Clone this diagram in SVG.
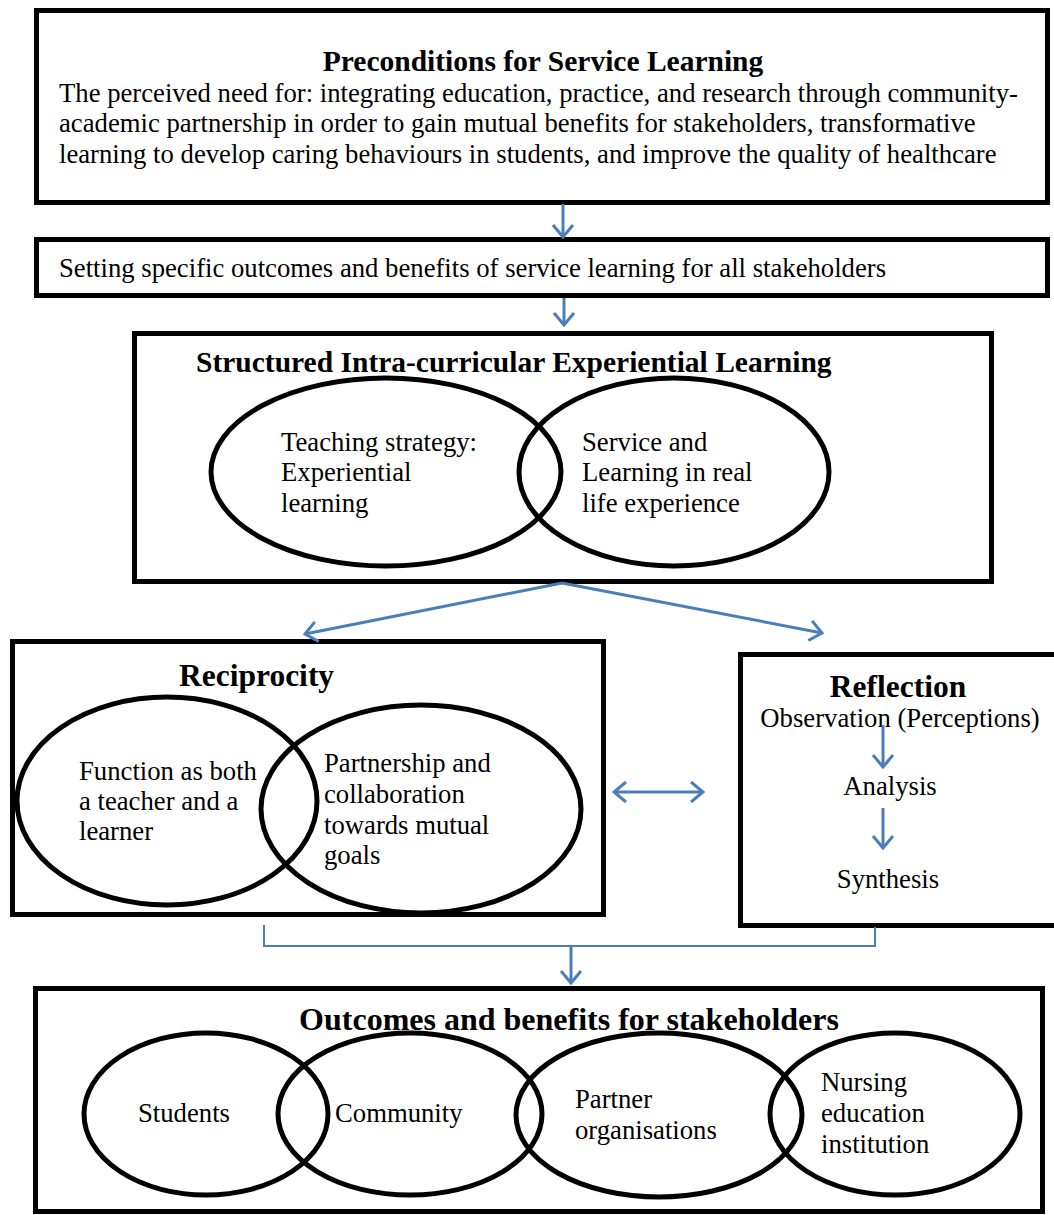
<svg xmlns="http://www.w3.org/2000/svg" width="1054" height="1215" viewBox="0 0 1054 1215">
<style>
.box{fill:none;stroke:#000;stroke-width:5}
.ell{fill:none;stroke:#000;stroke-width:5}
.t{font-family:"Liberation Serif","Times New Roman",serif;font-size:26.7px;fill:#000}
.h{font-family:"Liberation Serif","Times New Roman",serif;font-weight:bold;font-size:29.5px;fill:#000}
.h2{font-family:"Liberation Serif","Times New Roman",serif;font-weight:bold;font-size:31.5px;fill:#000}
.c{fill:none;stroke:#4a7ebb;stroke-width:3}
.thin{fill:none;stroke:#4a7ebb;stroke-width:2}
</style>
<defs>
<marker id="ah" markerUnits="userSpaceOnUse" markerWidth="16" markerHeight="24" viewBox="0 0 16 24" refX="14" refY="12" orient="auto-start-reverse">
<path d="M2,2 L14,12 L2,22" fill="none" stroke="#4a7ebb" stroke-width="3"/>
</marker>
</defs>
<rect width="1054" height="1215" fill="#fff"/>
<g id="preconditions">
<rect class="box" x="36.5" y="10.5" width="1011" height="192"/>
<text class="h" x="543" y="71" text-anchor="middle">Preconditions for Service Learning</text>
<text class="t" x="59" y="102">The perceived need for: integrating education, practice, and research through community-</text>
<text class="t" x="59" y="132">academic partnership in order to gain mutual benefits for stakeholders, transformative</text>
<text class="t" x="59" y="163">learning to develop caring behaviours in students, and improve the quality of healthcare</text>
</g>
<g id="setting">
<rect class="box" x="36.5" y="239.5" width="1011" height="56"/>
<text class="t" x="59" y="277">Setting specific outcomes and benefits of service learning for all stakeholders</text>
</g>
<g id="structured">
<rect class="box" x="134.5" y="333.5" width="857" height="248"/>
<text class="h" x="196" y="372">Structured Intra-curricular Experiential Learning</text>
<ellipse class="ell" cx="386" cy="472" rx="175" ry="94"/>
<ellipse class="ell" cx="674" cy="472" rx="155" ry="94"/>
<text class="t" x="281" y="451">Teaching strategy:</text>
<text class="t" x="281" y="481">Experiential</text>
<text class="t" x="281" y="512">learning</text>
<text class="t" x="582" y="451">Service and</text>
<text class="t" x="582" y="481">Learning in real</text>
<text class="t" x="582" y="512">life experience</text>
</g>
<g id="reciprocity">
<rect class="box" x="12.5" y="641.5" width="591" height="273"/>
<text class="h2" x="179" y="686">Reciprocity</text>
<ellipse class="ell" cx="167" cy="801" rx="150" ry="104"/>
<ellipse class="ell" cx="421" cy="809" rx="160" ry="104"/>
<text class="t" x="79" y="780">Function as both</text>
<text class="t" x="79" y="810">a teacher and a</text>
<text class="t" x="79" y="840">learner</text>
<text class="t" x="324" y="772">Partnership and</text>
<text class="t" x="324" y="803">collaboration</text>
<text class="t" x="324" y="834">towards mutual</text>
<text class="t" x="324" y="864">goals</text>
</g>
<g id="reflection">
<rect class="box" x="740.5" y="654.5" width="330" height="271"/>
<text class="h2" x="898" y="697" text-anchor="middle">Reflection</text>
<text class="t" x="900" y="727" text-anchor="middle">Observation (Perceptions)</text>
<text class="t" x="890" y="795" text-anchor="middle">Analysis</text>
<text class="t" x="888" y="888" text-anchor="middle">Synthesis</text>
</g>
<g id="outcomes">
<rect class="box" x="35.5" y="988.5" width="1007" height="223"/>
<text class="h2" x="569" y="1030" text-anchor="middle" style="font-size:32px">Outcomes and benefits for stakeholders</text>
<ellipse class="ell" cx="206" cy="1114" rx="122" ry="81"/>
<ellipse class="ell" cx="410" cy="1114" rx="132" ry="81"/>
<ellipse class="ell" cx="659" cy="1115" rx="143" ry="82"/>
<ellipse class="ell" cx="895" cy="1114" rx="125" ry="81"/>
<text class="t" x="138" y="1122">Students</text>
<text class="t" x="335" y="1122">Community</text>
<text class="t" x="575" y="1108">Partner</text>
<text class="t" x="575" y="1139">organisations</text>
<text class="t" x="821" y="1091">Nursing</text>
<text class="t" x="821" y="1122">education</text>
<text class="t" x="821" y="1153">institution</text>
</g>
<g id="connectors">
<line class="c" x1="563" y1="204" x2="563" y2="237" marker-end="url(#ah)"/>
<line class="c" x1="564" y1="298" x2="564" y2="325" marker-end="url(#ah)"/>
<line class="c" x1="562" y1="583" x2="305" y2="634" marker-end="url(#ah)"/>
<line class="c" x1="562" y1="583" x2="822" y2="633" marker-end="url(#ah)"/>
<line class="c" x1="614" y1="792" x2="703" y2="792" marker-start="url(#ah)" marker-end="url(#ah)"/>
<line class="c" x1="883" y1="725" x2="883" y2="767" marker-end="url(#ah)"/>
<line class="c" x1="883" y1="808" x2="883" y2="848" marker-end="url(#ah)"/>
<polyline class="thin" points="264,925 264,946 875,946 875,927"/>
<line class="c" x1="571" y1="946" x2="571" y2="983" marker-end="url(#ah)"/>
</g>
</svg>
